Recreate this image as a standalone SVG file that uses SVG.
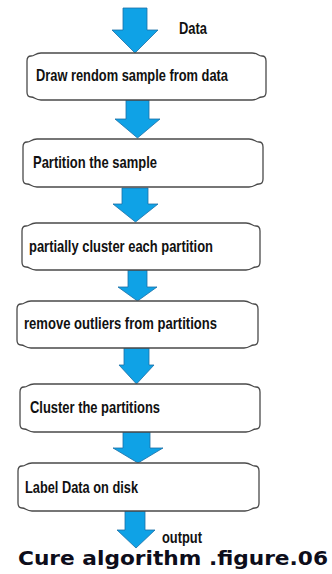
<svg xmlns="http://www.w3.org/2000/svg" width="332" height="574" viewBox="0 0 332 574">
  <style>
    .box { fill: #ffffff; stroke: #4a4a4a; stroke-width: 1.3; }
    .arrow { fill: #0fa2e6; stroke: #1b6fa6; stroke-width: 0.8; stroke-linejoin: miter; }
    .label { font-family: "Liberation Sans", Arial, sans-serif; font-weight: bold; font-size: 17px; fill: #111111; }
    .side { font-family: "Liberation Sans", Arial, sans-serif; font-weight: bold; font-size: 16px; fill: #111111; }
    .caption { font-family: "DejaVu Sans", Verdana, sans-serif; font-weight: bold; font-size: 19px; fill: #0d0d1a; }
  </style>
  <rect width="332" height="574" fill="#ffffff"/>

  <!-- block arrows between the steps -->
  <g id="connectors">
    <polygon class="arrow" points="123,8 147,8 147,30 158,30 135,53 112,30 123,30"/>
    <polygon class="arrow" points="126,100 149,100 149,119 160,119 137.5,138 115,119 126,119"/>
    <polygon class="arrow" points="122,188 148,188 148,204 158,204 135.5,222 113,204 122,204"/>
    <polygon class="arrow" points="128,270 147,270 147,287 157,287 137.5,301 118,287 128,287"/>
    <polygon class="arrow" points="124,348 149,348 149,365 154,365 136.5,384 119,365 124,365"/>
    <polygon class="arrow" points="123,432 150,432 150,448 163,448 138,463 113,448 123,448"/>
    <polygon class="arrow" points="125,511 145,511 145,530 155,530 136,548 117,530 125,530"/>
    <text class="side" x="179" y="34" textLength="28" lengthAdjust="spacingAndGlyphs">Data</text>
    <text class="side" x="162" y="543" textLength="40" lengthAdjust="spacingAndGlyphs">output</text>
  </g>

  <!-- step 1 -->
  <g id="step-sample">
    <path class="box" d="M41,53 H252 C258,53 258,56 262,56 Q266,56 266,61 V92 Q266,97 262,97 C258,97 258,100 252,100 H41 C35,100 35,97 31,97 Q27,97 27,92 V61 Q27,56 31,56 C35,56 35,53 41,53 Z"/>
    <text class="label" x="36" y="81" textLength="192" lengthAdjust="spacingAndGlyphs">Draw rendom sample from data</text>
  </g>

  <!-- step 2 -->
  <g id="step-partition">
    <path class="box" d="M37,139 H249 C255,139 255,142 259,142 Q263,142 263,147 V179 Q263,184 259,184 C255,184 255,187 249,187 H37 C31,187 31,184 27,184 Q23,184 23,179 V147 Q23,142 27,142 C31,142 31,139 37,139 Z"/>
    <text class="label" x="33" y="168" textLength="124" lengthAdjust="spacingAndGlyphs">Partition the sample</text>
  </g>

  <!-- step 3 -->
  <g id="step-partial-cluster">
    <path class="box" d="M36,223 H246 C252,223 252,226 256,226 Q260,226 260,231 V262 Q260,267 256,267 C252,267 252,270 246,270 H36 C30,270 30,267 26,267 Q22,267 22,262 V231 Q22,226 26,226 C30,226 30,223 36,223 Z"/>
    <text class="label" x="29" y="252" textLength="184" lengthAdjust="spacingAndGlyphs">partially cluster each partition</text>
  </g>

  <!-- step 4 -->
  <g id="step-outliers">
    <path class="box" d="M31,301 H244 C250,301 250,304 254,304 Q258,304 258,309 V340 Q258,345 254,345 C250,345 250,348 244,348 H31 C25,348 25,345 21,345 Q17,345 17,340 V309 Q17,304 21,304 C25,304 25,301 31,301 Z"/>
    <text class="label" x="24" y="329" textLength="193" lengthAdjust="spacingAndGlyphs">remove outliers from partitions</text>
  </g>

  <!-- step 5 -->
  <g id="step-cluster">
    <path class="box" d="M34,384 H246 C252,384 252,387 256,387 Q260,387 260,392 V424 Q260,429 256,429 C252,429 252,432 246,432 H34 C28,432 28,429 24,429 Q20,429 20,424 V392 Q20,387 24,387 C28,387 28,384 34,384 Z"/>
    <text class="label" x="30" y="413" textLength="130" lengthAdjust="spacingAndGlyphs">Cluster the partitions</text>
  </g>

  <!-- step 6 -->
  <g id="step-label">
    <path class="box" d="M32,463 H245 C251,463 251,466 255,466 Q259,466 259,471 V503 Q259,508 255,508 C251,508 251,511 245,511 H32 C26,511 26,508 22,508 Q18,508 18,503 V471 Q18,466 22,466 C26,466 26,463 32,463 Z"/>
    <text class="label" x="25" y="493" textLength="113" lengthAdjust="spacingAndGlyphs">Label Data on disk</text>
  </g>

  <text class="caption" x="18" y="565" textLength="310" lengthAdjust="spacingAndGlyphs">Cure algorithm .figure.06</text>
</svg>
